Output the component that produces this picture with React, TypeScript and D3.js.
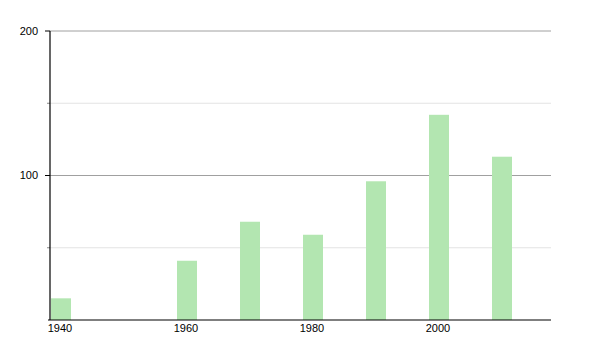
import React from "react";
import * as d3 from "d3";

const years = [1940, 1960, 1970, 1980, 1990, 2000, 2010];
const values = [15, 41, 68, 59, 96, 142, 113];
const xTickYears = [1940, 1960, 1980, 2000];
const yMajorTicks = [100, 200];
const yMinorTicks = [50, 150];

export default function App() {
  const width = 600;
  const height = 350;
  const left = 50;
  const right = 551;
  const top = 31;
  const bottom = 320;

  const x = d3.scaleLinear().domain([1940, 2020]).range([left, left + 504]);
  const y = d3.scaleLinear().domain([0, 200]).range([bottom, top]);
  const barW = 20;
  const font = "'Liberation Sans', Arial, Helvetica, sans-serif";

  return (
    <svg
      width={width}
      height={height}
      style={{ position: "absolute", left: 0, top: 0 }}
    >
      <rect width={width} height={height} fill="#fff" />
      {yMinorTicks.map((v) => (
        <g key={"mi" + v}>
          <line x1={left} x2={right} y1={y(v)} y2={y(v)} stroke="#e3e3e3" strokeWidth={1} />
          <line x1={left - 3} x2={left} y1={y(v)} y2={y(v)} stroke="#888" strokeWidth={1} />
        </g>
      ))}
      {yMajorTicks.map((v) => (
        <g key={"ma" + v}>
          <line x1={left} x2={right} y1={y(v)} y2={y(v)} stroke="#a0a0a0" strokeWidth={1} />
          <line x1={left - 5} x2={left} y1={y(v)} y2={y(v)} stroke="#000" strokeWidth={1} />
          <text
            x={38}
            y={y(v)}
            dy="0.35em"
            textAnchor="end"
            fontFamily={font}
            fontSize={11}
            fill="#000"
          >
            {v}
          </text>
        </g>
      ))}
      {years.map((yr, i) => (
        <rect
          key={yr}
          x={x(yr) + 1}
          y={y(values[i])}
          width={barW}
          height={bottom - y(values[i])}
          fill="#b3e6b1"
        />
      ))}
      <line x1={left} x2={left} y1={top} y2={bottom} stroke="#000" strokeWidth={1.2} />
      <line x1={left - 2} x2={right} y1={bottom} y2={bottom} stroke="#000" strokeWidth={1.2} />
      {xTickYears.map((yr) => (
        <text
          key={yr}
          x={x(yr) + 10}
          y={332}
          textAnchor="middle"
          fontFamily={font}
          fontSize={11}
          fill="#000"
        >
          {yr}
        </text>
      ))}
    </svg>
  );
}
